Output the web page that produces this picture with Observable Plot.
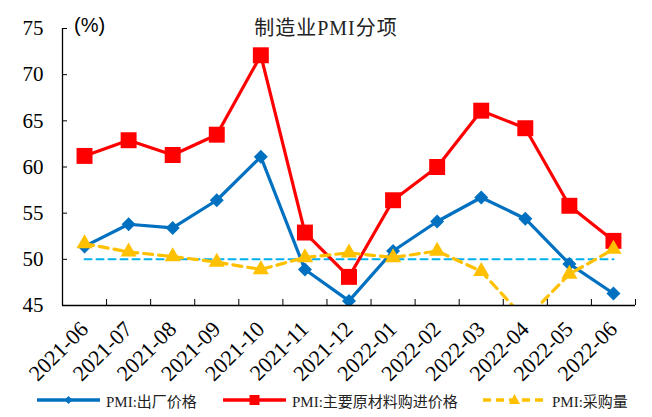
<!DOCTYPE html>
<html>
<head>
<meta charset="utf-8">
<script src="https://cdn.jsdelivr.net/npm/d3@7"></script>
<script src="https://cdn.jsdelivr.net/npm/@observablehq/plot@0.6"></script>
<style>
  html, body { margin: 0; padding: 0; background: #fff; }
  #wrap { position: relative; width: 652px; height: 417px; font-family: "Liberation Serif", "Noto Sans CJK SC", serif; }
  #title { position: absolute; left: 0; width: 652px; top: 12px; text-align: center; font-size: 20px; color: #222; letter-spacing: 1px; font-family: "Liberation Serif", "Noto Sans CJK SC", serif; }
  #unit { position: absolute; left: 74px; top: 14px; font-size: 20px; font-family: "Liberation Sans", sans-serif; color: #000; }
  #legend { position: absolute; left: 0; top: 389px; width: 652px; height: 22px; font-size: 15px; color: #222; }
  .item { position: absolute; top: 0; height: 22px; display: flex; align-items: center; }
  .item span { margin-left: 6px; white-space: nowrap; }
</style>
</head>
<body>
<div id="wrap">
  <div id="chart"></div>
  <div id="title">制造业PMI分项</div>
  <div id="unit">(%)</div>
  <div id="legend"></div>
</div>
<script>
const months = ["2021-06","2021-07","2021-08","2021-09","2021-10","2021-11","2021-12","2022-01","2022-02","2022-03","2022-04","2022-05","2022-06"];
const outputPrice = [51.4, 53.8, 53.4, 56.4, 61.1, 48.9, 45.5, 50.9, 54.1, 56.7, 54.4, 49.5, 46.3];
const inputPrice = [61.2, 62.9, 61.3, 63.5, 72.1, 52.9, 48.1, 56.4, 60.0, 66.1, 64.2, 55.8, 52.0];
const purchases = [51.7, 50.8, 50.3, 49.7, 48.9, 50.2, 50.7, 50.2, 50.9, 48.7, 43.5, 48.4, 51.1];
const threshold = 50;
const yTicks = [45, 50, 55, 60, 65, 70, 75];

const seriesNames = ["PMI:出厂价格", "PMI:主要原材料购进价格", "PMI:采购量"];
const colors = ["#0070C0", "#FF0000", "#FFC000"];
const refColor = "#00B0F0";

const idx = months.map((m, i) => i);
const blue = idx.map(i => ({i, v: outputPrice[i]}));
const red = idx.map(i => ({i, v: inputPrice[i]}));
const yellow = idx.map(i => ({i, v: purchases[i]}));
const ref = idx.map(i => ({i, v: threshold}));
const bounds = d3.range(months.length + 1).map(i => i - 0.5);
const xDomain = [-0.5, months.length - 0.5];

const chart = Plot.plot({
  width: 652,
  height: 417,
  marginLeft: 62,
  marginRight: 17,
  marginTop: 28,
  marginBottom: 112,
  style: {fontFamily: "'Liberation Serif', serif", background: "#fff", overflow: "visible"},
  x: {type: "linear", domain: xDomain},
  y: {domain: [45, 75]},
  marks: [
    Plot.line(ref, {x: "i", y: "v", stroke: refColor, strokeWidth: 2, strokeDasharray: "7,5"}),
    Plot.line(blue, {x: "i", y: "v", stroke: colors[0], strokeWidth: 3.2, clip: true}),
    Plot.dot(blue, {x: "i", y: "v", symbol: "diamond2", r: 6.3, fill: colors[0], stroke: null, clip: true}),
    Plot.line(red, {x: "i", y: "v", stroke: colors[1], strokeWidth: 3.2, clip: true}),
    Plot.dot(red, {x: "i", y: "v", symbol: "square", r: 9, fill: colors[1], stroke: null, clip: true}),
    Plot.line(yellow, {x: "i", y: "v", stroke: colors[2], strokeWidth: 3.2, strokeDasharray: "9,6", clip: true}),
    Plot.dot(yellow, {x: "i", y: "v", symbol: "triangle", r: 6, fill: colors[2], stroke: null, clip: true}),
    Plot.ruleX([xDomain[0]], {stroke: "#000", strokeWidth: 1.3}),
    Plot.ruleY([45], {stroke: "#000", strokeWidth: 1.3}),
    Plot.axisY({ticks: yTicks, tickSize: -5, tickFormat: () => "", stroke: "#000", label: null}),
    Plot.axisY({ticks: yTicks, tickSize: 0, tickPadding: 19, fontSize: 21, fill: "#000", label: null}),
    Plot.axisX({ticks: bounds, tickSize: -6, tickFormat: () => "", stroke: "#000", label: null}),
    Plot.axisX({ticks: idx, tickSize: 0, tickPadding: 20, tickRotate: -45, tickFormat: i => months[i], fontSize: 22, fill: "#000", label: null})
  ]
});
document.getElementById("chart").appendChild(chart);

// legend
const legend = document.getElementById("legend");
const items = [
  {left: 37, name: seriesNames[0], color: colors[0], dash: null, sym: "diamond"},
  {left: 223, name: seriesNames[1], color: colors[1], dash: null, sym: "square"},
  {left: 483, name: seriesNames[2], color: colors[2], dash: "8,5", sym: "triangle"}
];
for (const it of items) {
  const div = document.createElement("div");
  div.className = "item";
  div.style.left = it.left + "px";
  const w = 63, h = 22, cx = w / 2, cy = h / 2;
  let marker = "";
  if (it.sym === "diamond") marker = `<path d="M${cx},${cy-4}L${cx+4},${cy}L${cx},${cy+4}L${cx-4},${cy}Z" fill="${it.color}"/>`;
  if (it.sym === "square") marker = `<rect x="${cx-5}" y="${cy-5}" width="10" height="10" fill="${it.color}"/>`;
  if (it.sym === "triangle") marker = `<path d="M${cx},${cy-6}L${cx+5.5},${cy+4}L${cx-5.5},${cy+4}Z" fill="${it.color}"/>`;
  div.innerHTML = `<svg width="${w}" height="${h}"><line x1="0" x2="${w}" y1="${cy}" y2="${cy}" stroke="${it.color}" stroke-width="3.5" ${it.dash ? `stroke-dasharray="${it.dash}"` : ""}/>${marker}</svg><span>${it.name}</span>`;
  legend.appendChild(div);
}
</script>
</body>
</html>
